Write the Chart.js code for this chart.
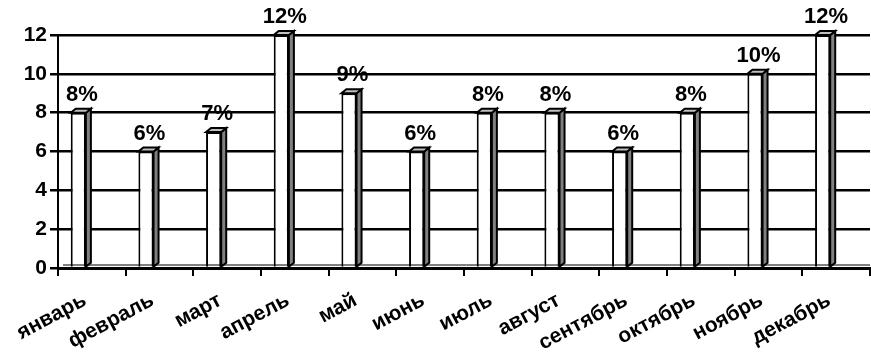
<!DOCTYPE html>
<html>
<head>
<meta charset="utf-8">
<script src="https://cdn.jsdelivr.net/npm/chart.js@4"></script>
<style>
  html, body { margin: 0; padding: 0; background: #fff; }
  #wrap { width: 871px; height: 353px; }
</style>
</head>
<body>
<div id="wrap"><canvas id="months"></canvas></div>
<script>
const months = ["январь", "февраль", "март", "апрель", "май", "июнь",
  "июль", "август", "сентябрь", "октябрь", "ноябрь", "декабрь"];
const shares = [8, 6, 7, 12, 9, 6, 8, 8, 6, 8, 10, 12];
const yTicks = [0, 2, 4, 6, 8, 10, 12];
// empty second series keeps the columns on the left side of each category
const spacer = months.map(() => null);

const FONT = "'Liberation Sans', Arial, sans-serif";
const DEPTH_X = 5, DEPTH_Y = 4;

// side and top faces of each column + percent labels
const columns3d = {
  id: "columns3d",
  afterDatasetsDraw(chart) {
    const ctx = chart.ctx;
    const meta = chart.getDatasetMeta(0);
    ctx.save();
    ctx.lineWidth = 2;
    ctx.strokeStyle = "#000";
    ctx.lineJoin = "miter";
    meta.data.forEach((bar, i) => {
      const half = bar.width / 2;
      const x0 = bar.x - half, x1 = bar.x + half;
      const top = bar.y, base = bar.base;
      // right side
      ctx.beginPath();
      ctx.moveTo(x1, top);
      ctx.lineTo(x1 + DEPTH_X, top - DEPTH_Y);
      ctx.lineTo(x1 + DEPTH_X, base - DEPTH_Y);
      ctx.lineTo(x1, base);
      ctx.closePath();
      ctx.fillStyle = "#808080";
      ctx.fill();
      ctx.stroke();
      // top
      ctx.beginPath();
      ctx.moveTo(x0, top);
      ctx.lineTo(x0 + DEPTH_X, top - DEPTH_Y);
      ctx.lineTo(x1 + DEPTH_X, top - DEPTH_Y);
      ctx.lineTo(x1, top);
      ctx.closePath();
      ctx.fillStyle = "#c0c0c0";
      ctx.fill();
      ctx.stroke();
      // value label
      ctx.fillStyle = "#000";
      ctx.font = "bold 22px " + FONT;
      ctx.textAlign = "center";
      ctx.textBaseline = "bottom";
      ctx.fillText(shares[i] + "%", bar.x + DEPTH_X / 2 + 1, top - 7);
    });
    // back edge of the floor
    const area = chart.chartArea;
    ctx.lineWidth = 1;
    ctx.beginPath();
    ctx.moveTo(area.left + DEPTH_X, area.bottom - DEPTH_Y + 1);
    ctx.lineTo(area.right, area.bottom - DEPTH_Y + 1);
    ctx.stroke();
    ctx.restore();
  }
};

new Chart(document.getElementById("months"), {
  type: "bar",
  data: {
    labels: months,
    datasets: [
      {
        data: shares,
        backgroundColor: "#ffffff",
        borderColor: "#000000",
        borderWidth: 2,
        categoryPercentage: 0.8,
        barPercentage: 0.56
      },
      {
        data: spacer,
        categoryPercentage: 0.8,
        barPercentage: 0.56
      }
    ]
  },
  options: {
    responsive: true,
    maintainAspectRatio: false,
    animation: false,
    layout: { padding: { top: 35, right: 1, left: 0, bottom: 0 } },
    plugins: {
      legend: { display: false },
      tooltip: { enabled: false }
    },
    scales: {
      x: {
        grid: {
          drawOnChartArea: false,
          color: "#000",
          lineWidth: 2,
          tickLength: 8
        },
        border: { color: "#000", width: 3 },
        ticks: {
          color: "#000",
          font: { family: FONT, size: 21, weight: "bold" },
          maxRotation: 28,
          minRotation: 28,
          autoSkip: false,
          padding: 12,
          labelOffset: -7
        },
        afterFit(scale) { scale.height = 85; }
      },
      y: {
        min: 0,
        max: 12,
        afterBuildTicks(scale) {
          scale.ticks = yTicks.map(v => ({ value: v }));
        },
        grid: {
          color: "#000",
          lineWidth: 2.5,
          tickLength: 8
        },
        border: { color: "#000", width: 2 },
        ticks: {
          color: "#000",
          font: { family: FONT, size: 21, weight: "bold" },
          padding: 3
        },
        afterFit(scale) { scale.width = 58; }
      }
    }
  },
  plugins: [columns3d]
});
</script>
</body>
</html>
